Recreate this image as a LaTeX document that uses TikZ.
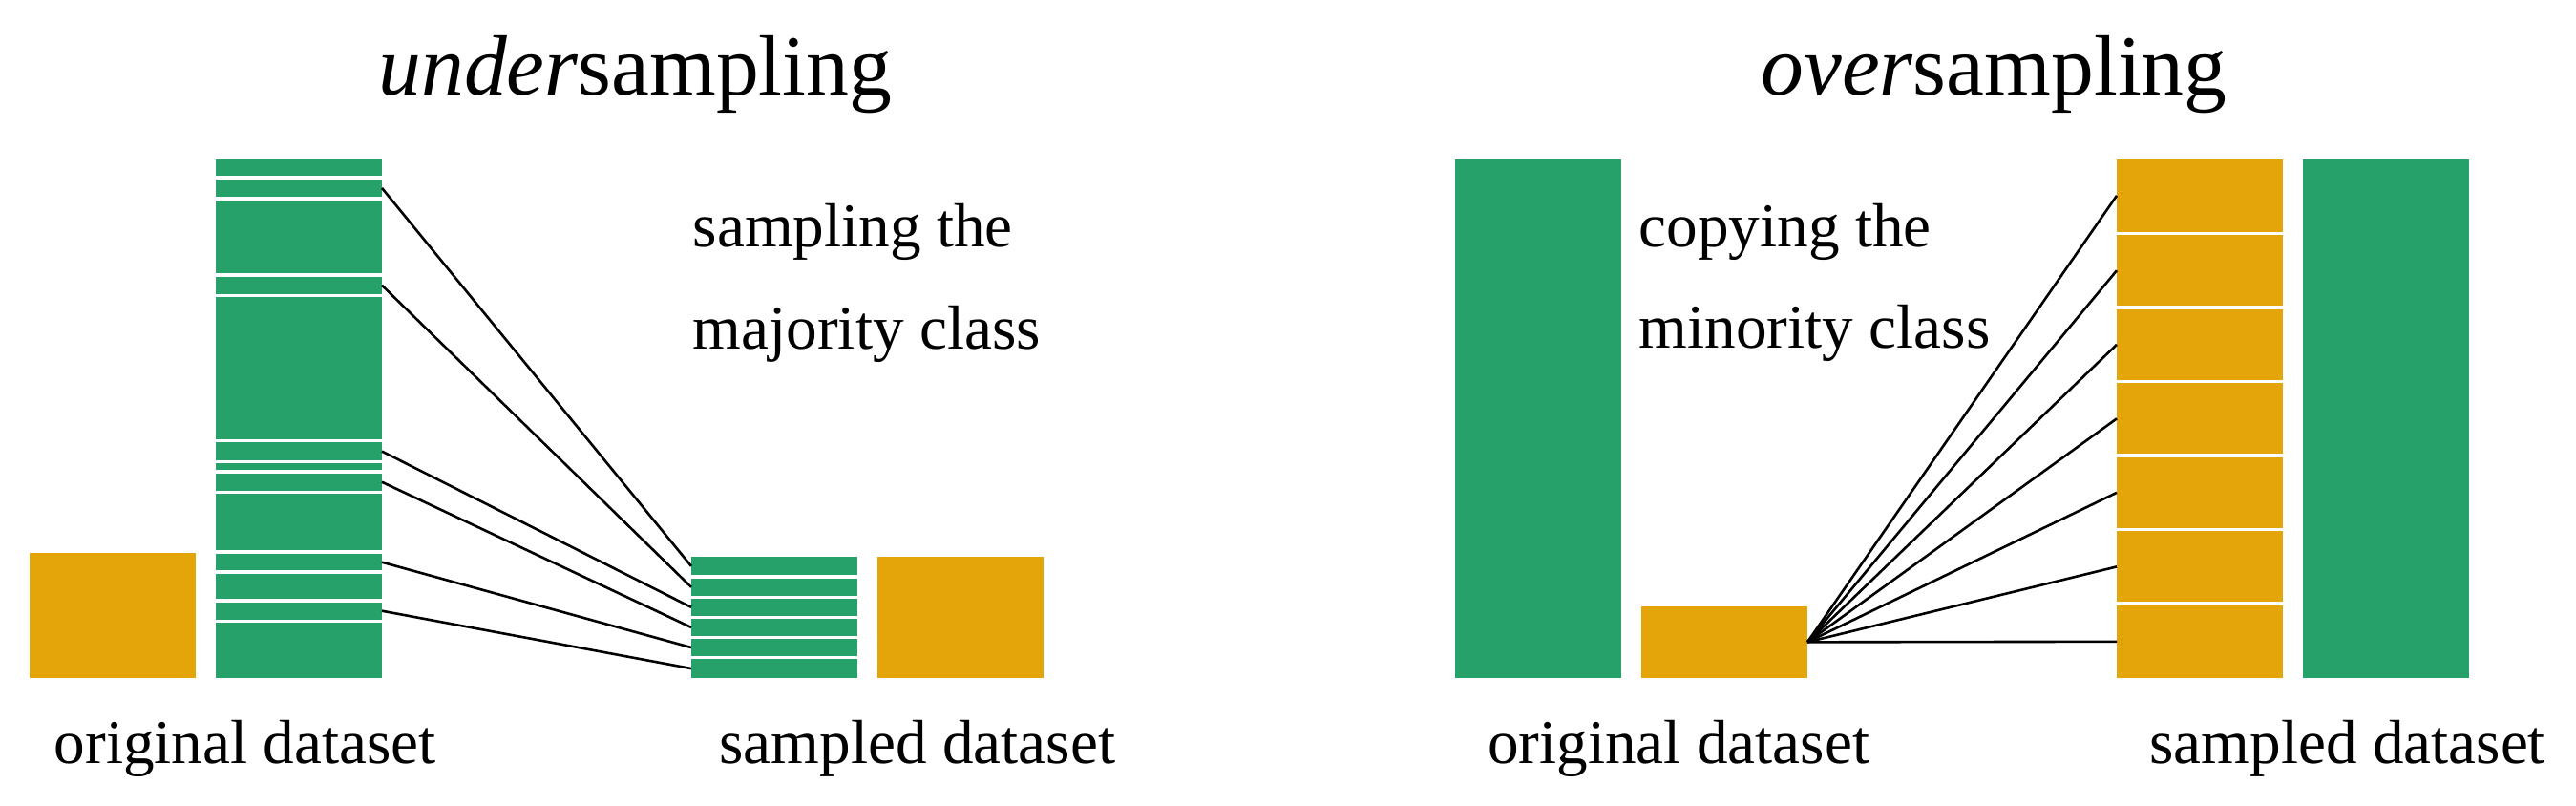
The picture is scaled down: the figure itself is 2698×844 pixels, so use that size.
\documentclass[tikz,border=0pt]{standalone}
\usepackage{fontspec}
\setmainfont{Liberation Serif}
\definecolor{cgreen}{RGB}{38,161,105}
\definecolor{corange}{RGB}{228,165,10}
\begin{document}
\begin{tikzpicture}[x=0.25pt,y=-0.25pt,
 bar/.style={inner sep=0pt, outer sep=0pt, draw=none, anchor=north west, minimum width=43.5pt},
 ht/.style={minimum height=#1*0.25pt},
 gbar/.style={bar, fill=cgreen},
 obar/.style={bar, fill=corange},
 link/.style={line width=0.65pt, black},
 lbl/.style={inner sep=0pt, anchor=base west, font=\fontsize{16.3}{19}\selectfont},
 ttl/.style={inner sep=0pt, anchor=base west, font=\fontsize{22.4}{26}\selectfont}]
\useasboundingbox (0,0) rectangle (2698,844);

% ---------- undersampling ----------
\node[ttl] (tu) at (395.7,100) {\textit{under}sampling};
\node[obar, ht=130.5] (o1) at (31,579.2) {};
\node[gbar, ht=17.1] (c1) at (226,167) {};
\node[gbar, ht=18.4] (s1) at (226,187.7) {};
\node[gbar, ht=76.5] (c3) at (226,209.7) {};
\node[gbar, ht=17.9] (s2) at (226,289.8) {};
\node[gbar, ht=148.4] (c5) at (226,311.3) {};
\node[gbar, ht=18.6] (s3) at (226,463.3) {};
\node[gbar, ht=6.7] (c7) at (226,485.5) {};
\node[gbar, ht=17.9] (s4) at (226,495.8) {};
\node[gbar, ht=59] (c9) at (226,517.3) {};
\node[gbar, ht=17.6] (s5) at (226,579.9) {};
\node[gbar, ht=26.1] (c11) at (226,601.1) {};
\node[gbar, ht=17.8] (s6) at (226,630.8) {};
\node[gbar, ht=57.5] (c13) at (226,652.2) {};

\node[gbar, ht=19.3] (t1) at (724,583.2) {};
\node[gbar, ht=17.5] (t2) at (724,606.1) {};
\node[gbar, ht=17.4] (t3) at (724,627.2) {};
\node[gbar, ht=17.5] (t4) at (724,648.2) {};
\node[gbar, ht=17.5] (t5) at (724,669.3) {};
\node[gbar, ht=19.3] (t6) at (724,690.4) {};
\node[obar, ht=126.5] (o2) at (919,583.2) {};

\foreach \i in {1,...,6} \draw[link] (s\i.east) -- (t\i.west);

\node[lbl] (u1) at (725,259) {sampling the};
\node[lbl] (u2) at (725,366) {majority class};
\node[lbl] (u3) at (56,799.3) {original dataset};
\node[lbl] (u4) at (752.8,799.3) {sampled dataset};

% ---------- oversampling ----------
\node[ttl] (to) at (1843.7,100) {\textit{over}sampling};
\node[gbar, ht=542.7] (g1) at (1524,167) {};
\node[obar, ht=74.7] (m) at (1719,635) {};
\node[obar, ht=75.7] (r1) at (2217,167) {};
\node[obar, ht=73.9] (r2) at (2217,246.3) {};
\node[obar, ht=74] (r3) at (2217,323.8) {};
\node[obar, ht=73.9] (r4) at (2217,401.4) {};
\node[obar, ht=73.9] (r5) at (2217,478.9) {};
\node[obar, ht=74] (r6) at (2217,556.4) {};
\node[obar, ht=75.7] (r7) at (2217,634) {};
\node[gbar, ht=542.7] (g2) at (2412,167) {};

\foreach \i in {1,...,7} \draw[link] (m.east) -- (r\i.west);

\node[lbl] (v1) at (1716,259) {copying the};
\node[lbl] (v2) at (1716,365) {minority class};
\node[lbl] (v3) at (1557.2,799.3) {original dataset};
\node[lbl] (v4) at (2250.6,799.3) {sampled dataset};
\end{tikzpicture}
\end{document}
